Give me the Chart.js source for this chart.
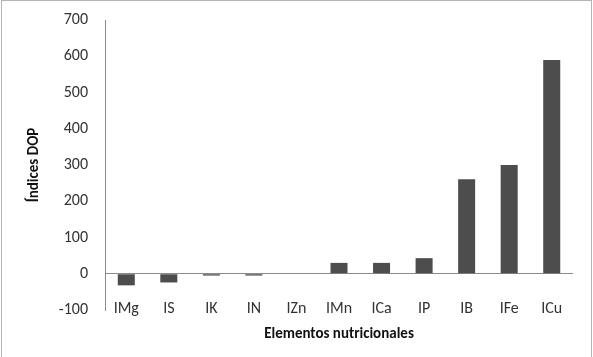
<!DOCTYPE html>
<html>
<head>
<meta charset="utf-8">
<script src="https://cdn.jsdelivr.net/npm/chart.js@4/dist/chart.umd.min.js"></script>
<style>
html,body{margin:0;padding:0;background:#fff;}
#wrap{width:593px;height:357px;position:relative;}
</style>
</head>
<body>
<div id="wrap"><canvas id="c" width="593" height="357"></canvas></div>
<script>
const categories = ["IMg","IS","IK","IN","IZn","IMn","ICa","IP","IB","IFe","ICu"];
const dopValues = [-32, -24, -5, -5, 0, 30, 30, 43, 261, 300, 590];
const yTicks = {min: -100, max: 700, step: 100};
const xTitle = "Elementos nutricionales";
const yTitle = "Índices DOP";

const FONT = "Carlito, Lato, 'Open Sans', sans-serif";

const borderPlugin = {
  id: 'outerBorder',
  afterDraw(chart) {
    const ctx = chart.ctx;
    ctx.save();
    ctx.strokeStyle = '#b4b4b4';
    ctx.lineWidth = 1;
    ctx.strokeRect(1.5, 0.5, 590, 360);
    ctx.restore();
  }
};

new Chart(document.getElementById('c'), {
  type: 'bar',
  data: {
    labels: categories,
    datasets: [{
      data: dopValues,
      backgroundColor: '#4d4d4d',
      borderWidth: 0,
      barPercentage: 0.4,
      categoryPercentage: 1.0
    }]
  },
  plugins: [borderPlugin],
  options: {
    responsive: false,
    animation: false,
    devicePixelRatio: 1,
    layout: {autoPadding: false, padding: {left: 25, right: 20, top: 20, bottom: 14}},
    plugins: {legend: {display: false}, tooltip: {enabled: false}},
    scales: {
      x: {
        grid: {display: false, drawTicks: false},
        border: {display: false},
        ticks: {color: '#333', font: {family: FONT, size: 16}, mirror: true, padding: -9, maxRotation: 0, autoSkip: false},
        title: {display: true, text: xTitle, color: '#111', font: {family: FONT, size: 15, weight: 'bold'}, padding: {top: 0, bottom: 0}},
        afterFit(scale) { scale.height = 33; }
      },
      y: {
        min: yTicks.min,
        max: yTicks.max,
        ticks: {stepSize: yTicks.step, color: '#333', font: {family: FONT, size: 16}, padding: 3},
        grid: {
          drawTicks: true,
          tickLength: 14,
          tickColor: 'rgba(0,0,0,0)',
          color: (c) => (c.tick && c.tick.value === 0) ? '#8a8a8a' : 'rgba(0,0,0,0)',
          lineWidth: 1
        },
        border: {display: true, color: '#8a8a8a'},
        title: {display: true, text: yTitle, color: '#111', font: {family: FONT, size: 15, weight: 'bold'}, padding: {top: 0, bottom: 0}},
        afterFit(scale) { scale.width = 80; }
      }
    }
  }
});
</script>
</body>
</html>
